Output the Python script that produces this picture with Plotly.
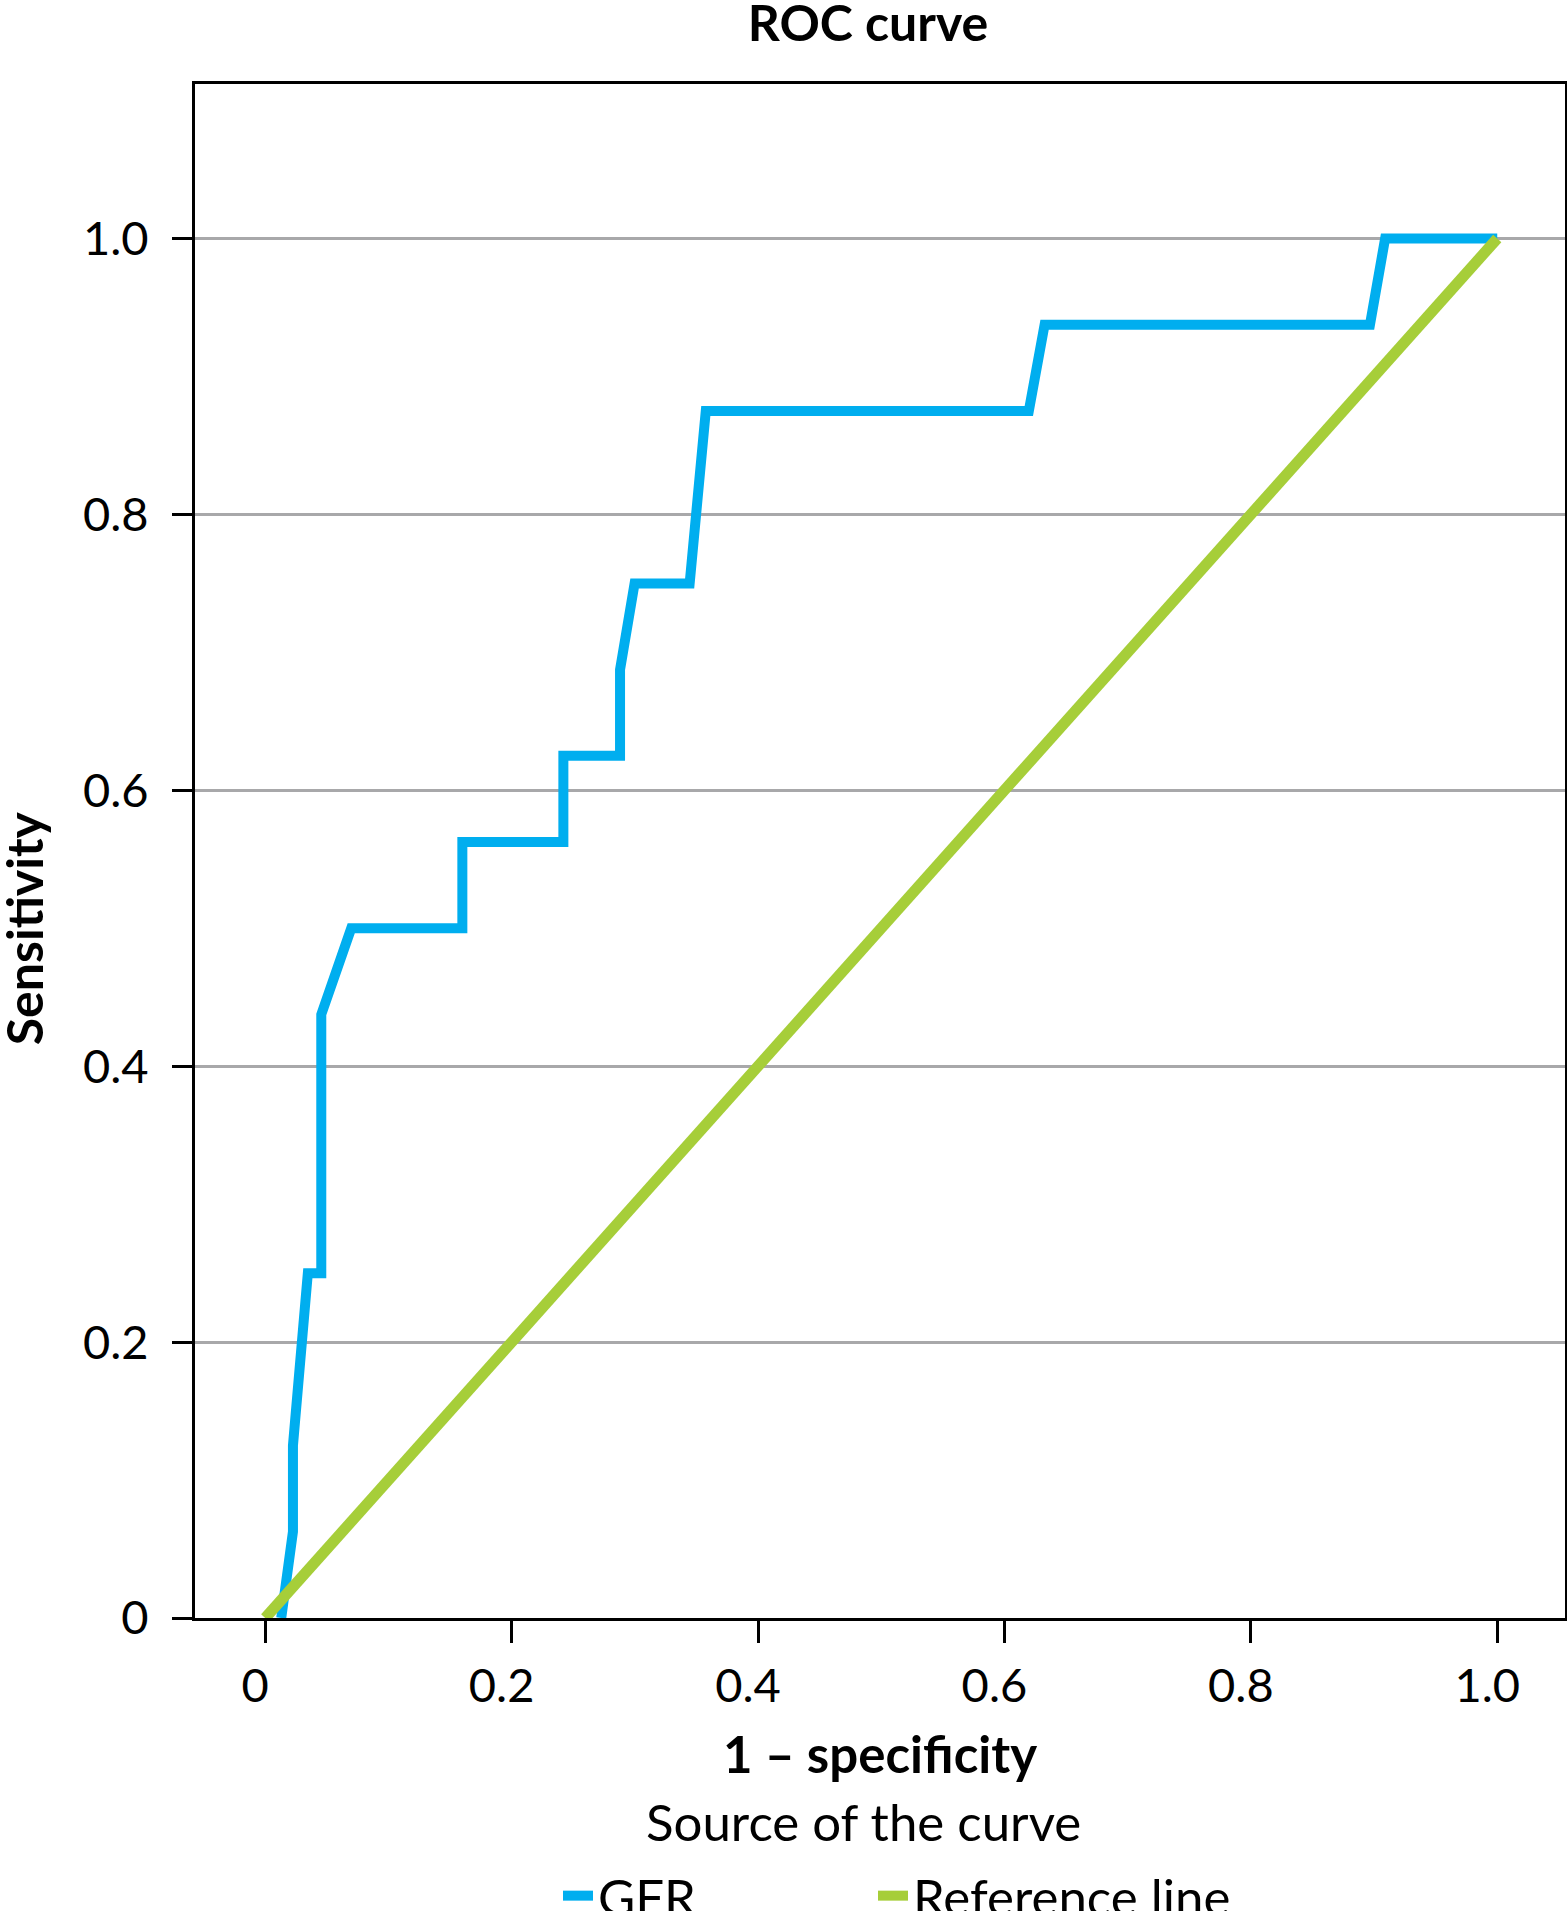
import plotly.graph_objects as go

# ROC curve data (1 - specificity, sensitivity)
gfr_fpr = [0.013, 0.0225, 0.0225, 0.0346, 0.0455, 0.0455, 0.0698, 0.160, 0.160, 0.242, 0.242,
           0.288, 0.288, 0.2998, 0.3445, 0.3576, 0.6198, 0.6326, 0.8967, 0.909, 1.0]
gfr_tpr = [0.0, 0.0625, 0.125, 0.25, 0.25, 0.4375, 0.5, 0.5, 0.5625, 0.5625, 0.625,
           0.625, 0.6875, 0.75, 0.75, 0.875, 0.875, 0.9375, 0.9375, 1.0, 1.0]
ref_x = [0.0, 1.0]
ref_y = [0.0, 1.0]

tick_vals = [0, 0.2, 0.4, 0.6, 0.8, 1.0]
tick_text = ["0", "0.2", "0.4", "0.6", "0.8", "1.0"]

FONT = "Lato"
W, H = 1567, 1911
ML, MR, MT, MB = 195, 2, 84, 293

fig = go.Figure()
fig.add_trace(go.Scatter(x=gfr_fpr, y=gfr_tpr, mode="lines", name="GFR",
                         legendwidth=270,
                         line=dict(color="#00AEEF", width=10)))
fig.add_trace(go.Scatter(x=ref_x, y=ref_y, mode="lines", name="Reference line",
                         line=dict(color="#A6CE39", width=11)))

fig.update_layout(
    width=W, height=H,
    margin=dict(l=ML, r=MR, t=MT, b=MB, autoexpand=False),
    paper_bgcolor="white", plot_bgcolor="white",
    font=dict(family=FONT, color="black", size=47),
    title=dict(text="<b>ROC curve</b>", font=dict(family=FONT, size=50, color="black"),
               x=868 / W, xref="container", xanchor="center",
               y=1 - 23 / H, yref="container", yanchor="middle"),
    showlegend=True,
    legend=dict(orientation="h", x=(558 - ML) / (W - ML - MR), xanchor="left",
                y=(H - MB - 1856) / (H - MT - MB), yanchor="top",
                font=dict(family=FONT, size=51, color="black"),
                bgcolor="rgba(0,0,0,0)"),
    xaxis=dict(range=[-0.057, 1.055], tickvals=tick_vals, ticktext=tick_text,
               showgrid=False, zeroline=False,
               showline=True, mirror=True, linecolor="black", linewidth=3,
               ticks="outside", ticklen=22, tickwidth=3, tickcolor="black",
               ticklabelstandoff=3, ticklabelshift=-10,
               tickfont=dict(family=FONT, size=47, color="black"),
               title=dict(text="<b>1 – specificity</b>", standoff=26,
                          font=dict(family=FONT, size=51, color="black"))),
    yaxis=dict(range=[0, 1.112], tickvals=tick_vals, ticktext=tick_text,
               showgrid=True, gridcolor="#A8A8AA", gridwidth=3, zeroline=False,
               showline=True, mirror=True, linecolor="black", linewidth=3,
               ticks="outside", ticklen=20, tickwidth=3, tickcolor="black",
               ticklabelstandoff=14,
               tickfont=dict(family=FONT, size=47, color="black")),
    annotations=[
        dict(text="<b>Sensitivity</b>", textangle=-90, showarrow=False,
             xref="paper", x=0, xshift=24 - ML, xanchor="center",
             yref="y", y=0.5, yanchor="middle",
             font=dict(family=FONT, size=50, color="black")),
        dict(text="Source of the curve", showarrow=False,
             xref="paper", x=(863 - ML) / (W - ML - MR), xanchor="center",
             yref="paper", y=(H - MB - 1822) / (H - MT - MB), yanchor="middle",
             font=dict(family=FONT, size=51, color="black")),
    ],
)

fig.write_html(
    "out.html",
    config={"displayModeBar": False},
    post_script="document.body.style.margin='0px';document.body.style.overflow='hidden';",
)
